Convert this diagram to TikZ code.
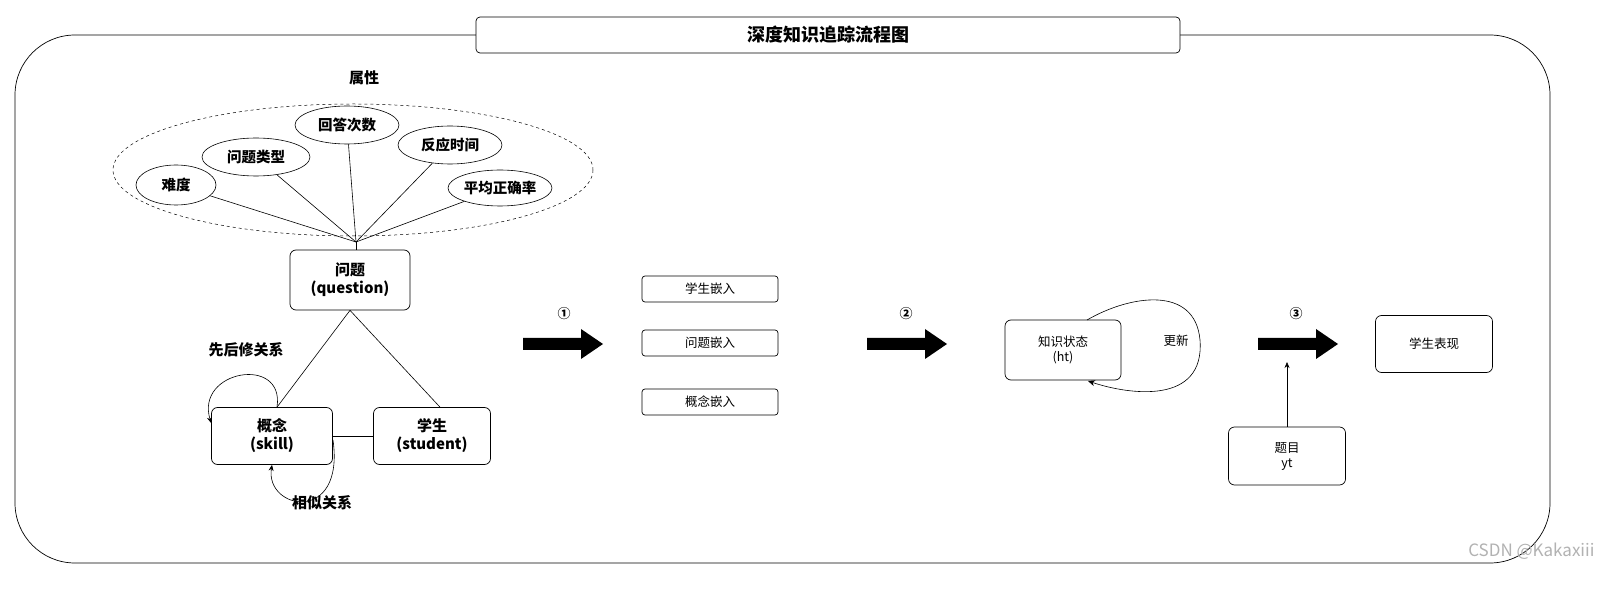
\documentclass[tikz,border=0pt]{standalone}
\usepackage{fontspec}
\setmainfont{Noto Sans CJK SC}
\usetikzlibrary{arrows.meta,shapes.geometric}
\begin{document}
\begin{tikzpicture}[x=1pt,y=-1pt,
  box/.style={draw,rounded corners=6pt,line width=0.7pt,inner sep=0pt,align=center},
  attr/.style={draw,ellipse,line width=0.6pt,inner sep=0pt,font=\bfseries\fontsize{14.5}{16}\selectfont},
  lnk/.style={line width=0.6pt},
  sm/.style={font=\fontsize{12.5}{15}\selectfont},
  bl/.style={font=\bfseries\fontsize{15}{18}\selectfont}]
\fill[white] (0,0) rectangle (1603,593);
\draw[line width=0.7pt,rounded corners=60pt] (15,35) rectangle (1550,563);
\node[box,fill=white,rounded corners=4pt,minimum width=704pt,minimum height=36pt,font=\bfseries\fontsize{18}{21}\selectfont] (title) at (828,35) {深度知识追踪流程图};
\node[bl] (attrlbl) at (364,78) {属性};
\draw[dashed,line width=0.5pt] (353,170) ellipse [x radius=240, y radius=66];
\node[attr,minimum width=80pt,minimum height=40pt] (a1) at (176,185) {难度};
\node[attr,minimum width=108pt,minimum height=38pt] (a2) at (256,157) {问题类型};
\node[attr,minimum width=104pt,minimum height=38pt] (a3) at (347,125) {回答次数};
\node[attr,minimum width=104pt,minimum height=38pt] (a4) at (450,145) {反应时间};
\node[attr,minimum width=104pt,minimum height=36pt] (a5) at (500,188) {平均正确率};
\node[box,bl,minimum width=120pt,minimum height=60pt] (q) at (350,280) {问题\\(question)};
\coordinate (qc) at (356,242);
\foreach \a in {a1,a2,a3,a4,a5} \draw[lnk] (\a) -- (qc);
\draw[lnk] (qc) -- (q.north -| qc);
\node[box,bl,minimum width=121pt,minimum height=57pt] (sk) at (272,436) {概念\\(skill)};
\node[box,bl,minimum width=117pt,minimum height=57pt] (st) at (432,436) {学生\\(student)};
\draw[lnk] (q.south) -- (sk.north -| 277,0);
\draw[lnk] (q.south) -- (st.north -| 440,0);
\draw[lnk] (sk) -- (st);
\node[bl] (pre) at (246,350) {先后修关系};
\draw[lnk,-{Stealth[length=6pt,width=5pt]}] (277,407) .. controls (285,355) and (195,370) .. (sk.west |- 0,423);
\node[bl] (sim) at (322,503) {相似关系};
\draw[lnk,-{Stealth[length=6pt,width=5pt]}] (333,440) .. controls (345,525) and (265,510) .. (sk.south -| 272,0);
\node[bl,font=\bfseries\fontsize{13}{15}\selectfont] (n1) at (564,314) {①};
\node[bl,font=\bfseries\fontsize{13}{15}\selectfont] (n2) at (906,314) {②};
\node[bl,font=\bfseries\fontsize{13}{15}\selectfont] (n3) at (1296,314) {③};
\foreach \x in {523,867,1258}
  \fill (\x,338) -- (\x+58,338) -- (\x+58,329) -- (\x+80,344) -- (\x+58,359) -- (\x+58,350) -- (\x,350) -- cycle;
\node[box,sm,rounded corners=3pt,minimum width=136pt,minimum height=26pt] (e1) at (710,289) {学生嵌入};
\node[box,sm,rounded corners=3pt,minimum width=136pt,minimum height=26pt] (e2) at (710,343) {问题嵌入};
\node[box,sm,rounded corners=3pt,minimum width=136pt,minimum height=26pt] (e3) at (710,402) {概念嵌入};
\node[box,sm,minimum width=116pt,minimum height=60pt] (h) at (1063,350) {知识状态\\(ht)};
\draw[lnk,-{Stealth[length=7pt,width=6pt]}] (1087,320) .. controls (1130,295) and (1195,285) .. (1200,340) .. controls (1205,405) and (1130,395) .. (1088,381);
\node[sm] (upd) at (1176,341) {更新};
\node[box,sm,minimum width=117pt,minimum height=57pt] (perf) at (1434,344) {学生表现};
\node[box,sm,minimum width=117pt,minimum height=58pt] (yt) at (1287,456) {题目\\yt};
\draw[lnk,-{Stealth[length=6pt,width=5pt]}] (yt.north) -- (1287,362);
\node[text=black!30,font=\fontsize{17}{19}\selectfont,anchor=east] (wm) at (1598,551) {CSDN @Kakaxiii};
\pgfresetboundingbox
\useasboundingbox (0,0) rectangle (1603,593);
\end{tikzpicture}
\end{document}
